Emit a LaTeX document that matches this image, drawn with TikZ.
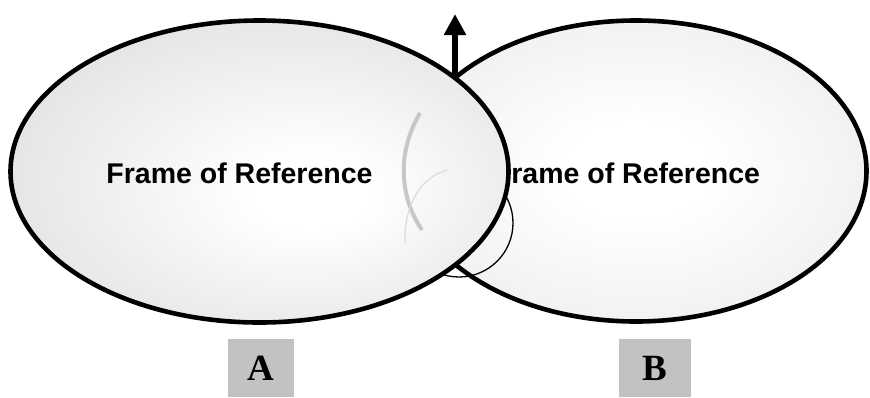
\documentclass[tikz,border=0pt]{standalone}
\usepackage{fontspec}
\usepackage{tikz}
\usetikzlibrary{shapes.geometric}
\usetikzlibrary{arrows.meta}
\newfontfamily\framefont{Liberation Sans}
\newfontfamily\letterfont{Liberation Serif}
\pgfdeclareradialshading{shadea}{\pgfpoint{6bp}{-4bp}}{color(0bp)=(white); color(6bp)=(white); color(50bp)=(black!20)}
\pgfdeclareradialshading{shadeb}{\pgfpoint{0bp}{0bp}}{color(0bp)=(white); color(8bp)=(white); color(50bp)=(black!13)}
\tikzset{
	framestyle/.style={ellipse,draw=black,line width=4.6pt,inner sep=0pt},
	textstyle/.style={inner sep=0pt,font=\framefont\bfseries\fontsize{28.5}{30}\selectfont},
	loopstyle/.style={circle,draw=black,line width=1.3pt,inner sep=0pt,minimum size=108pt},
	boxstyle/.style={rectangle,fill=black!24,inner sep=0pt,font=\letterfont\bfseries\fontsize{37}{40}\selectfont}
}
\begin{document}
\begin{tikzpicture}[x=1pt,y=-1pt]
		\useasboundingbox (0,0) rectangle (870,397);
		\node[framestyle,shading=shadeb,minimum width=461pt,minimum height=301pt] (b) at (636,171) {};
		\node[textstyle] (tb) at (627,173) {Frame of Reference};
		\node[loopstyle] (loop) at (459,223) {};
		\node[framestyle,shading=shadea,minimum width=498pt,minimum height=302pt] (a) at (259.5,171.5) {};
		\node[textstyle] (ta) at (239.5,173) {Frame of Reference};
		% faint strokes on the left frame
		\draw[black!22,line width=4pt] (420,113) .. controls (398,150) and (398,195) .. (422,230);
		\draw[black!14,line width=1.2pt] (447,170) .. controls (420,178) and (404,205) .. (405,243);
		\coordinate (cross) at (455,75);
		\coordinate (tip) at (455,14);
		\draw[line width=6.5pt,-{Triangle[width=21pt,length=21pt]}] (cross)--(tip);
		\node[boxstyle,minimum width=66pt,minimum height=58pt] (la) at (261,368) {A};
		\node[boxstyle,minimum width=72pt,minimum height=58pt] (lb) at (655,368) {B};
		\end{tikzpicture}
\end{document}
